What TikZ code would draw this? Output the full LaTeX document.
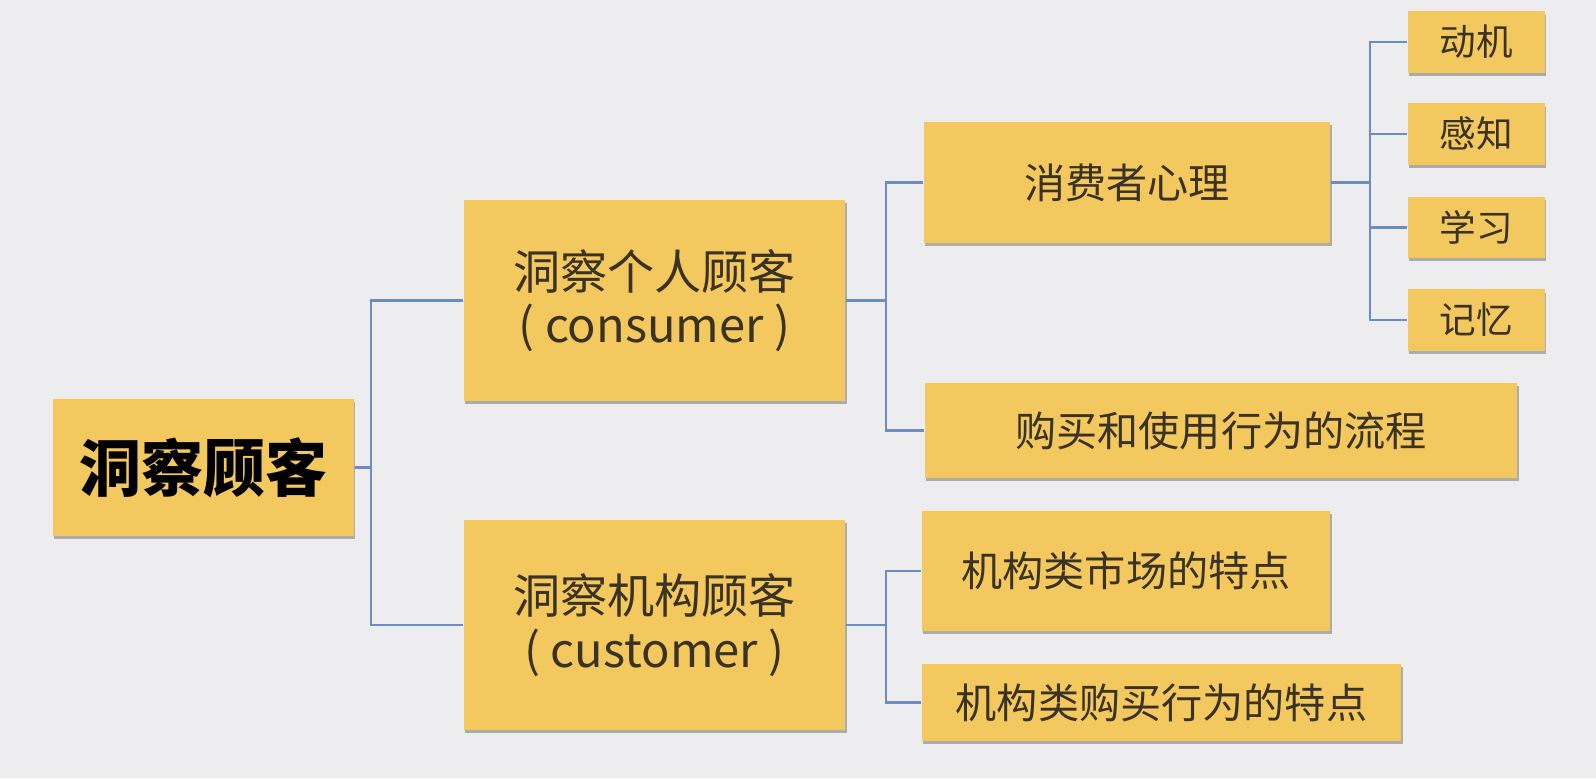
\documentclass[tikz,border=0pt]{standalone}
\usepackage{fontspec}
\newfontfamily\cjk{Noto Sans CJK SC}
\usetikzlibrary{shadows}
\definecolor{boxfill}{HTML}{F2C85F}
\definecolor{linkblue}{HTML}{6C8DC2}
\definecolor{bgray}{HTML}{EDEDEF}
\definecolor{ink}{HTML}{3A3222}
\begin{document}
\begin{tikzpicture}[x=0.01cm, y=-0.01cm,
  box/.style={fill=boxfill, text=ink, align=center, inner sep=0pt,
    drop shadow={shadow xshift=0.4pt, shadow yshift=-0.9pt, fill=black!70, opacity=0.4}},
  rootbox/.style={box, text=black, font=\cjk\bfseries\fontsize{17.6}{20}\selectfont},
  twobox/.style={box, font=\cjk\fontsize{13.4}{15.2}\selectfont},
  threebox/.style={box, font=\cjk\fontsize{11.7}{14}\selectfont},
  fourbox/.style={box, minimum width=1.37cm, minimum height=0.61cm, font=\cjk\fontsize{10.4}{12}\selectfont},
  link/.style={draw=linkblue, line width=0.6pt}]
  \fill[bgray] (0,0) rectangle (1596,778);
  \node[rootbox, minimum width=3.01cm, minimum height=1.37cm] (root) at (203.5,467.5) {洞察顾客};
  \node[twobox, minimum width=3.81cm, minimum height=2.01cm] (cons) at (654.5,300.5) {洞察个人顾客\\( consumer )};
  \node[twobox, minimum width=3.81cm, minimum height=2.10cm] (cust) at (654.5,625) {洞察机构顾客\\( customer )};
  \node[threebox, minimum width=4.06cm, minimum height=1.21cm] (psy) at (1127,182.5) {消费者心理};
  \node[threebox, minimum width=5.92cm, minimum height=0.95cm] (flow) at (1221,430.5) {购买和使用行为的流程};
  \node[threebox, minimum width=4.08cm, minimum height=1.20cm] (mkt) at (1126,571) {机构类市场的特点};
  \node[threebox, minimum width=4.79cm, minimum height=0.77cm] (buy) at (1161.5,702.5) {机构类购买行为的特点};
  \node[fourbox] (m1) at (1476.5,42) {动机};
  \node[fourbox] (m2) at (1476.5,134) {感知};
  \node[fourbox] (m3) at (1476.5,227.5) {学习};
  \node[fourbox] (m4) at (1476.5,320) {记忆};
  \foreach \p/\c/\d in {root/cons/16,root/cust/16,cons/psy/40,cons/flow/40,
      psy/m1/39,psy/m2/39,psy/m3/39,psy/m4/39,cust/mkt/40,cust/buy/40}
    \draw[link] (\p.east) -- ++(\d,0) |- (\c.west);
\end{tikzpicture}
\end{document}
